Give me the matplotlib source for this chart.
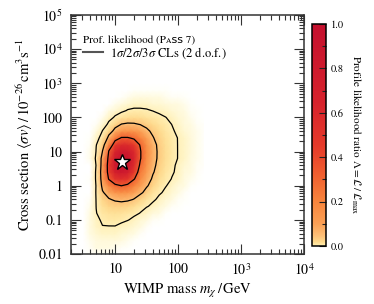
import numpy as np
import matplotlib
matplotlib.use('Agg')
import matplotlib.pyplot as plt
from matplotlib.colors import LinearSegmentedColormap
from matplotlib.lines import Line2D
from matplotlib.ticker import LogLocator, NullFormatter, MultipleLocator
from matplotlib.font_manager import FontProperties

# grid of the likelihood scan (log10 of mass in GeV, log10 of <sigma v> in 1e-26 cm^3/s)
log_mass = [0.5, 0.6, 0.7, 0.8, 0.9, 1.0, 1.1, 1.2, 1.3, 1.4,
            1.5, 1.6, 1.7, 1.8, 1.9, 2.0, 2.1, 2.2, 2.3, 2.4]
log_sigmav = [-2.0, -1.8, -1.6, -1.4, -1.2, -1.0, -0.8, -0.6, -0.4, -0.2, 0.0, 0.2, 0.4,
              0.6, 0.8, 1.0, 1.2, 1.4, 1.6, 1.8, 2.0, 2.2, 2.4, 2.6, 2.8, 3.0]

# -2 ln(L/Lmax), 25 = nothing left
delta_chi2 = [
    [24, 22, 20, 20, 20, 21, 23, 25, 25, 25, 25, 25, 25, 25, 25, 25, 25, 25, 25, 25],
    [24, 20, 18, 18, 18, 19, 20, 22, 24, 25, 25, 25, 25, 25, 25, 25, 25, 25, 25, 25],
    [23, 19, 17, 16, 16, 16, 17, 19, 21, 24, 25, 25, 25, 25, 25, 25, 25, 25, 25, 25],
    [24, 18, 15, 14, 14, 14, 15, 16, 18, 20, 23, 25, 25, 25, 25, 25, 25, 25, 25, 25],
    [25, 17, 14, 12, 12, 12, 13, 14, 15, 17, 20, 23, 25, 25, 25, 25, 25, 25, 25, 25],
    [25, 17, 13, 11.0, 10.4, 10.3, 10.7, 11.6, 13, 15, 17, 20, 22, 24, 25, 25, 25, 25, 25, 25],
    [25, 18, 12, 9.7, 8.9, 8.7, 8.9, 9.5, 10.5, 12, 14, 16, 18, 21, 23, 25, 25, 25, 25, 25],
    [25, 19, 11.7, 8.6, 7.6, 7.2, 7.2, 7.5, 8.3, 9.7, 11.4, 13, 15, 18, 20, 22, 25, 25, 25, 25],
    [25, 20, 11.5, 7.6, 6.4, 5.8, 5.5, 5.7, 6.3, 7.5, 9.1, 10.9, 13, 15, 17, 20, 22, 25, 25, 25],
    [25, 23, 11.0, 6.5, 4.8, 4.0, 3.7, 3.9, 4.5, 5.6, 7.2, 9.0, 11.0, 13, 15, 18, 20, 23, 25, 25],
    [25, 25, 11.1, 5.2, 3.4, 2.5, 2.3, 2.5, 3.2, 4.3, 5.8, 7.6, 9.4, 11.4, 14, 16, 18, 21, 23, 25],
    [25, 21, 10.6, 4.4, 2.2, 1.4, 1.2, 1.4, 2.2, 3.4, 4.9, 6.6, 8.4, 10.2, 12, 14, 17, 19, 22, 24],
    [25, 23, 10.4, 4.2, 1.7, 0.7, 0.4, 0.6, 1.5, 2.9, 4.3, 5.9, 7.6, 9.3, 11.2, 13, 16, 18, 20, 23],
    [25, 23, 11.3, 4.3, 1.6, 0.4, 0.1, 0.3, 1.1, 2.5, 3.8, 5.5, 7.1, 8.8, 10.6, 13, 15, 17, 20, 22],
    [25, 19, 10.5, 4.8, 1.8, 0.5, 0.1, 0.2, 0.9, 2.2, 3.6, 5.2, 6.8, 8.4, 10.2, 12, 14, 17, 19, 22],
    [25, 19, 11.5, 6.1, 2.2, 0.9, 0.4, 0.5, 1.0, 2.2, 3.5, 5.1, 6.8, 8.4, 10.1, 12, 14, 16, 19, 21],
    [25, 20, 12, 7.2, 3.3, 1.6, 1.1, 1.1, 1.5, 2.4, 3.7, 5.3, 6.9, 8.5, 10.2, 12, 14, 16, 19, 21],
    [25, 21, 14, 9.1, 5.3, 2.9, 2.2, 2.2, 2.5, 3.2, 4.4, 6.0, 7.3, 8.8, 10.5, 12, 14, 16, 19, 21],
    [25, 24, 17, 11.6, 7.7, 5.1, 3.9, 3.8, 3.9, 4.5, 5.6, 6.8, 8.0, 9.4, 11.1, 13, 15, 17, 19, 22],
    [25, 25, 20, 15, 10.6, 7.7, 6.1, 5.8, 5.9, 6.3, 7.1, 8.1, 9.1, 10.3, 11.9, 14, 16, 18, 20, 22],
    [25, 25, 24, 19, 14, 11.0, 9.1, 8.4, 8.2, 8.4, 9.0, 9.8, 10.7, 11.7, 13, 15, 16, 19, 21, 23],
    [25, 25, 25, 23, 18, 15, 13, 11.4, 10.9, 10.9, 11.3, 12, 13, 14, 15, 16, 18, 20, 22, 24],
    [25, 25, 25, 25, 23, 19, 17, 15, 14, 14, 14, 15, 15, 16, 17, 18, 19, 21, 23, 25],
    [25, 25, 25, 25, 25, 24, 21, 19, 18, 17, 17, 18, 18, 19, 20, 20, 22, 23, 25, 25],
    [25, 25, 25, 25, 25, 25, 25, 24, 22, 21, 21, 21, 22, 22, 23, 24, 24, 25, 25, 25],
    [25, 25, 25, 25, 25, 25, 25, 25, 25, 25, 25, 25, 25, 25, 25, 25, 25, 25, 25, 25],
]

best_mass = 13.0
best_sigmav = 5.05
cl_levels = [2.30, 6.18, 11.83]   # 1/2/3 sigma, 2 d.o.f.

x_ticks = [10, 100, 1e3, 1e4]
x_labels = ['10', '100', '$10^3$', '$10^4$']
y_ticks = [0.01, 0.1, 1, 10, 100, 1e3, 1e4, 1e5]
y_labels = ['0.01', '0.1', '1', '10', '100', '$10^3$', '$10^4$', '$10^5$']
cb_ticks = [0.0, 0.2, 0.4, 0.6, 0.8, 1.0]

plt.rcParams['font.family'] = 'STIXGeneral'
plt.rcParams['mathtext.fontset'] = 'stix'

cmap = LinearSegmentedColormap.from_list('like', [
    (0.0, '#ffffff'), (0.00001, '#fffffa'), (0.0001, '#fffbe2'), (0.001, '#fff4c4'),
    (0.005, '#ffeaa8'), (0.02, '#fed88a'), (0.045, '#fdc078'), (0.1, '#fba055'), (0.2, '#f8853d'),
    (0.316, '#f0602f'), (0.45, '#e53a2a'), (0.65, '#d6222c'), (1.0, '#c4102e')], N=65536)

fig = plt.figure(figsize=(3.74, 3.04), dpi=100)
ax = fig.add_axes([0.190, 0.164, 0.623, 0.787])

M, S = np.meshgrid(10**np.array(log_mass), 10**np.array(log_sigmav))
D = np.array(delta_chi2, dtype=float)
pc = ax.pcolormesh(M, S, np.exp(-D/2), shading='gouraud', cmap=cmap, vmin=0, vmax=1, rasterized=True)
ax.contour(M, S, D, levels=cl_levels, colors='k', linewidths=0.9)
ax.plot([best_mass], [best_sigmav], marker='*', ms=12, mfc='white', mec='k', mew=1.0, ls='none')

ax.set_xscale('log')
ax.set_yscale('log')
ax.set_xlim(2, 1e4)
ax.set_ylim(0.01, 1e5)
ax.set_xticks(x_ticks, x_labels)
ax.set_yticks(y_ticks, y_labels)
for a in (ax.xaxis, ax.yaxis):
    a.set_minor_locator(LogLocator(subs=np.arange(2, 10), numticks=20))
    a.set_minor_formatter(NullFormatter())
ax.tick_params(which='both', direction='in', top=True, right=True, width=0.8, color='#333333', labelsize=10)
ax.tick_params(which='major', length=7, pad=6)
ax.tick_params(which='minor', length=3.5)
for sp in ax.spines.values():
    sp.set_linewidth(1.1)
    sp.set_color('#333333')
ax.set_xlabel(r'WIMP mass $m_\chi\,/\,\mathrm{GeV}$', fontsize=10.5, labelpad=3)
ax.set_ylabel(r'Cross section $\langle\sigma v\rangle\,/\,10^{-26}\,\mathrm{cm}^3\mathrm{s}^{-1}$', fontsize=10.5, labelpad=2)

fp = FontProperties(family=['STIXGeneral', 'DejaVu Sans'], size=8)
ax.legend([Line2D([], [], color='#555555', lw=1.5)], [r'$1\sigma/2\sigma/3\sigma$ CLs (2 d.o.f.)'],
          title='Prof. likelihood (P\u1d00\ua731\ua731 7)', title_fontproperties=fp,
          loc='upper left', bbox_to_anchor=(0.01, 0.955), frameon=False, fontsize=9,
          handlelength=1.6, handletextpad=0.5, alignment='left', borderpad=0.3, labelspacing=0.0)

cax = fig.add_axes([0.834, 0.191, 0.038, 0.730])
cb = fig.colorbar(pc, cax=cax, ticks=cb_ticks, format='%.1f')
cb.ax.yaxis.set_minor_locator(MultipleLocator(0.1))
cb.ax.tick_params(which='both', direction='in', width=0.8, labelsize=7.5, color='#222222')
cb.ax.tick_params(which='major', length=5)
cb.ax.tick_params(which='minor', length=3)
cb.outline.set_linewidth(1.1)
cb.set_label(r'Profile likelihood ratio $\Lambda = \mathcal{L}\,/\,\mathcal{L}_\mathrm{max}$',
             rotation=270, labelpad=13, fontsize=8)

fig.savefig('out.png', dpi=100)
